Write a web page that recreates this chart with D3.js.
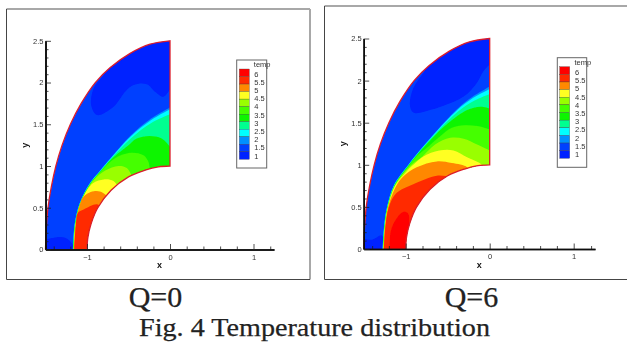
<!DOCTYPE html>
<html lang="en">

<head>
    <meta charset="UTF-8">
    <title>Fig. 4 Temperature distribution</title>
    <script src="https://d3js.org/d3.v7.min.js"></script>
    <style>
        html, body { margin: 0; padding: 0; background: #fff; overflow: hidden; }
        svg { display: block; }
        .tick text, .legend-label, .axis-title { font-family: "Liberation Sans", sans-serif; fill: #333; }
        .tick text, .legend-label { font-size: 7.5px; }
        .axis-title { font-size: 9px; font-weight: bold; fill: #111; }
        .caption { font-family: "Liberation Serif", serif; fill: #222; stroke: #222; stroke-width: 0.25px; text-anchor: middle; }
    </style>
</head>

<body>
    <div id="chart"></div>

    <script>
        // legend, top band first
        const legendLabels = ["6", "5.5", "5", "4.5", "4", "3.5", "3", "2.5", "2", "1.5", "1"];
        const bandNames = ["b12", "b11", "b10", "b9", "b8", "b7", "b6", "b5", "b4", "b3", "b2", "b1"];
        const bandColors = ["#ff0000", "#ff2a00", "#ff8800", "#ffff22", "#99ff00", "#44ff00", "#11f500",
            "#00ff90", "#00ffff", "#0090ff", "#0040ff", "#0020ff"];

        const xMajor = [-1, 0, 1];
        const xMinor = [-1.4, -1.2, -0.8, -0.6, -0.4, -0.2, 0.2, 0.4, 0.6, 0.8, 1.2];
        const yMajor = [0, 0.5, 1, 1.5, 2, 2.5];
        const yMinor = [0.1, 0.2, 0.3, 0.4, 0.6, 0.7, 0.8, 0.9, 1.1, 1.2, 1.3, 1.4, 1.6, 1.7, 1.8, 1.9, 2.1, 2.2, 2.3, 2.4];

        // domain edges (x, y)
        const outerEdge = [[-1.5, 0], [-1.49, 0.25], [-1.47, 0.5], [-1.43, 0.75], [-1.375, 1], [-1.3, 1.25], [-1.2, 1.5],
            [-1.07, 1.75], [-0.9, 2], [-0.72, 2.18], [-0.48, 2.35], [-0.24, 2.46], [0, 2.5]];
        const innerEdge = [[0, 1], [-0.14, 0.99], [-0.3, 0.95], [-0.5, 0.87], [-0.71, 0.71], [-0.87, 0.5], [-0.95, 0.31], [-0.99, 0.14], [-1, 0]];

        // Q=0 contour fronts, coolest first
        const q0DeepTop = [[0, 1.92], [-0.08, 1.83], [-0.18, 1.89], [-0.28, 1.98], [-0.44, 1.97], [-0.54, 1.89], [-0.68, 1.71], [-0.88, 1.61],
            [-0.95, 1.73], [-0.92, 1.93], [-0.8, 2.09], [-0.68, 2.26], [-0.44, 2.42], [-0.24, 2.52], [0, 2.55]];
        const q0DeepLow = [[-1.55, 0.11], [-1.32, 0.15], [-1.24, 0.13], [-1.18, 0.07], [-1.17, 0], [-1.55, 0]];
        const q0Azure = [[-1.17, 0], [-1.15, 0.3], [-1.09, 0.55], [-0.97, 0.79], [-0.84, 0.95], [-0.72, 1.09], [-0.48, 1.36], [-0.24, 1.56], [0, 1.7]];
        const q0Cyan = [[-1.168, 0], [-1.148, 0.3], [-1.088, 0.55], [-0.968, 0.788], [-0.838, 0.947], [-0.718, 1.086], [-0.477, 1.35], [-0.235, 1.545], [0, 1.68]];
        const q0Spring = [[-1.166, 0], [-1.146, 0.3], [-1.086, 0.55], [-0.966, 0.786], [-0.836, 0.944], [-0.716, 1.082], [-0.472, 1.33], [-0.225, 1.515], [0, 1.62]];
        const q0Green = [[-1.164, 0], [-1.144, 0.3], [-1.084, 0.55], [-0.964, 0.784], [-0.834, 0.941], [-0.712, 1.076], [-0.6, 1.17], [-0.5, 1.25], [-0.4, 1.33],
            [-0.25, 1.36], [-0.1, 1.33], [0, 1.23]];
        const q0Lime = [[-1.162, 0], [-1.142, 0.3], [-1.082, 0.55], [-0.962, 0.782], [-0.832, 0.938], [-0.7, 1.065], [-0.6, 1.125], [-0.46, 1.16], [-0.32, 1.13], [-0.26, 1.05], [-0.24, 0.9]];
        const q0YellowGreen = [[-1.16, 0], [-1.14, 0.3], [-1.08, 0.55], [-0.96, 0.78], [-0.88, 0.87], [-0.78, 0.945], [-0.62, 1.0], [-0.52, 0.975], [-0.45, 0.86]];
        const q0Yellow = [[-1.158, 0], [-1.138, 0.3], [-1.078, 0.55], [-0.995, 0.72], [-0.92, 0.8], [-0.8, 0.84], [-0.68, 0.82], [-0.6, 0.7]];
        const q0Orange = [[-1.156, 0], [-1.136, 0.3], [-1.09, 0.52], [-1.04, 0.635], [-0.9, 0.7], [-0.78, 0.66], [-0.7, 0.5]];
        const q0RedOrange = [[-1.154, 0], [-1.134, 0.3], [-1.11, 0.44], [-1.04, 0.48], [-0.87, 0.54], [-0.8, 0.4]];

        // Q=6 contour fronts, coolest first
        const q6DeepTop = [[0, 2.19], [-0.075, 2.11], [-0.155, 1.97], [-0.31, 1.81], [-0.55, 1.7], [-0.75, 1.64], [-0.91, 1.62], [-0.95, 1.71],
            [-0.91, 1.91], [-0.79, 2.09], [-0.68, 2.26], [-0.44, 2.42], [-0.24, 2.52], [0, 2.55]];
        const q6DeepLow = [[-1.55, 0.13], [-1.4, 0.11], [-1.285, 0.16], [-1.27, 0], [-1.55, 0]];
        const q6Azure = [[-1.275, 0], [-1.26, 0.25], [-1.225, 0.49], [-1.14, 0.76], [-0.97, 1.0], [-0.86, 1.14], [-0.67, 1.36], [-0.39, 1.66], [-0.2, 1.81], [0, 1.93]];
        const q6Cyan = [[-1.273, 0], [-1.258, 0.25], [-1.223, 0.49], [-1.138, 0.758], [-0.968, 0.998], [-0.858, 1.137], [-0.668, 1.357], [-0.386, 1.652], [-0.195, 1.795], [0, 1.9]];
        const q6Spring = [[-1.271, 0], [-1.256, 0.25], [-1.221, 0.49], [-1.136, 0.756], [-0.966, 0.996], [-0.856, 1.134], [-0.664, 1.35], [-0.38, 1.63], [-0.185, 1.76], [0, 1.84]];
        const q6Green = [[-1.269, 0], [-1.254, 0.25], [-1.219, 0.49], [-1.134, 0.754], [-0.964, 0.994], [-0.854, 1.131], [-0.66, 1.34], [-0.5, 1.49], [-0.27, 1.65], [-0.11, 1.69], [0, 1.67]];
        const q6Lime = [[-1.267, 0], [-1.252, 0.25], [-1.217, 0.49], [-1.132, 0.752], [-0.962, 0.99], [-0.85, 1.12], [-0.75, 1.2], [-0.6, 1.33], [-0.45, 1.44], [-0.3, 1.47], [-0.15, 1.46], [0, 1.42]];
        const q6YellowGreen = [[-1.265, 0], [-1.25, 0.25], [-1.215, 0.49], [-1.13, 0.75], [-0.955, 0.98], [-0.8, 1.1], [-0.65, 1.24], [-0.47, 1.32], [-0.31, 1.31], [-0.15, 1.24], [0, 1.17]];
        const q6Yellow = [[-1.263, 0], [-1.248, 0.25], [-1.213, 0.49], [-1.128, 0.748], [-1.0, 0.91], [-0.91, 1.0], [-0.79, 1.1], [-0.6, 1.17], [-0.43, 1.17], [-0.27, 1.09], [-0.12, 1.02], [-0.08, 0.98]];
        const q6Orange = [[-1.261, 0], [-1.246, 0.25], [-1.211, 0.49], [-1.115, 0.745], [-1.03, 0.86], [-0.87, 0.97], [-0.63, 1.04], [-0.45, 1.02], [-0.27, 0.97], [-0.25, 0.9]];
        const q6RedOrange = [[-1.259, 0], [-1.244, 0.25], [-1.2, 0.5], [-1.11, 0.665], [-0.91, 0.77], [-0.63, 0.87], [-0.5, 0.87], [-0.42, 0.91], [-0.38, 0.9]];
        const q6Red = [[-1.19, 0], [-1.18, 0.2], [-1.13, 0.33], [-1.03, 0.44], [-0.97, 0.42], [-0.97, 0.2], [-1, 0.05], [-1, 0]];

        const width = 627;
        const height = 343;

        const svg = d3.select("#chart").append("svg")
            .attr("width", width)
            .attr("height", height);

        // the reference is a soft scan, take the edge off the plots
        svg.append("filter").attr("id", "soft")
            .attr("x", "-2%").attr("y", "-2%").attr("width", "104%").attr("height", "104%")
            .append("feGaussianBlur").attr("stdDeviation", 0.35);

        const panels = [
            {
                id: "q0", caption: "Q=0", captionX: 155.5,
                frame: { x0: 6.5, y0: 9, x1: 310, y1: 279.5 },
                xRange: [45.5, 170, 253.5, 274], yRange: [249.5, 40.8],
                legend: { x0: 236.7, y0: 60, x1: 266.7, y1: 168, swatch0: 239.3, swatch1: 249.3, band0: 69, band1: 159.3, label0: 74, label1: 156, textX: 254.3, titleY: 67 },
                deep: [q0DeepTop, q0DeepLow],
                fronts: [q0Azure, q0Cyan, q0Spring, q0Green, q0Lime, q0YellowGreen, q0Yellow, q0Orange, q0RedOrange],
            },
            {
                id: "q6", caption: "Q=6", captionX: 471.5,
                frame: { x0: 324.5, y0: 6, x1: 629, y1: 279.5 },
                xRange: [363.7, 489.7, 573.7, 595], yRange: [249, 38.5],
                legend: { x0: 557.3, y0: 57.7, x1: 586.7, y1: 167.3, swatch0: 559.7, swatch1: 569.7, band0: 66.7, band1: 158.3, label0: 72.3, label1: 154.3, textX: 575, titleY: 64.5 },
                deep: [q6DeepTop, q6DeepLow],
                fronts: [q6Azure, q6Cyan, q6Spring, q6Green, q6Lime, q6YellowGreen, q6Yellow, q6Orange, q6RedOrange, q6Red],
            },
        ];

        const colorScale = d3.scaleOrdinal().domain(bandNames).range(bandColors);
        // band painted by each front, azure upwards
        const frontBands = ["b3", "b4", "b5", "b6", "b7", "b8", "b9", "b10", "b11", "b12"];

        function drawPanel(p) {
            const g = svg.append("g").attr("filter", "url(#soft)");

            // frame: dark left/bottom edges, grey top/right ones
            g.append("line").attr("x1", p.frame.x0).attr("x2", p.frame.x1).attr("y1", p.frame.y0).attr("y2", p.frame.y0)
                .attr("stroke", "#a8a8a8").attr("stroke-width", 2);
            g.append("line").attr("x1", p.frame.x1).attr("x2", p.frame.x1).attr("y1", p.frame.y0).attr("y2", p.frame.y1)
                .attr("stroke", "#a8a8a8").attr("stroke-width", 2);
            g.append("line").attr("x1", p.frame.x0).attr("x2", p.frame.x0).attr("y1", p.frame.y0).attr("y2", p.frame.y1)
                .attr("stroke", "#444").attr("stroke-width", 1);
            g.append("line").attr("x1", p.frame.x0).attr("x2", p.frame.x1).attr("y1", p.frame.y1).attr("y2", p.frame.y1)
                .attr("stroke", "#444").attr("stroke-width", 1);

            const xScale = d3.scaleLinear().domain([-1.5, 0, 1, 1.245]).range(p.xRange);
            const yScale = d3.scaleLinear().domain([0, 2.5]).range(p.yRange);
            const line = d3.line().x(d => xScale(d[0])).y(d => yScale(d[1])).curve(d3.curveCatmullRom);
            const origin = `L${xScale(0)},${yScale(0)}Z`;

            const domainPath = line(outerEdge) + "L" + line(innerEdge).slice(1) + "Z";

            g.append("clipPath").attr("id", `clip-${p.id}`)
                .append("path").attr("d", domainPath);

            const field = g.append("g").attr("clip-path", `url(#clip-${p.id})`);

            field.append("path").attr("d", domainPath).attr("fill", colorScale("b2"));

            p.deep.forEach(pts => {
                field.append("path").attr("d", line(pts) + "Z").attr("fill", colorScale("b1"));
            });

            // each front closes through the origin, the hole is clipped away
            p.fronts.forEach((pts, i) => {
                field.append("path")
                    .attr("d", line(pts) + origin)
                    .attr("fill", colorScale(frontBands[i]));
            });

            // red boundary line
            g.append("path")
                .attr("d", line(outerEdge) + "L" + line(innerEdge).slice(1))
                .attr("fill", "none")
                .attr("stroke", "#dc1c2c")
                .attr("stroke-width", 1.3);

            // axes, ticks point into the plot
            const xAxis = g.append("g").attr("transform", `translate(0, ${p.yRange[0]})`);
            xAxis.append("g").call(d3.axisBottom(xScale).tickValues(xMinor).tickFormat("").tickSizeInner(-3).tickSizeOuter(0));
            xAxis.append("g").call(d3.axisBottom(xScale).tickValues(xMajor).tickFormat(d3.format("d")).tickSizeInner(-5.5).tickSizeOuter(0).tickPadding(5));

            const yAxis = g.append("g").attr("transform", `translate(${p.xRange[0]}, 0)`);
            yAxis.append("g").call(d3.axisLeft(yScale).tickValues(yMinor).tickFormat("").tickSizeInner(-3).tickSizeOuter(0));
            yAxis.append("g").call(d3.axisLeft(yScale).tickValues(yMajor).tickFormat(d => String(d)).tickSizeInner(-5.5).tickSizeOuter(0).tickPadding(2));

            g.selectAll(".domain").attr("stroke", "#111").attr("stroke-width", 1.6);
            g.selectAll(".tick line").attr("stroke", "#222").attr("stroke-width", 0.8);

            g.append("text").attr("class", "axis-title")
                .attr("x", xScale(0) - 13).attr("y", p.yRange[0] + 18.5)
                .text("x");
            g.append("text").attr("class", "axis-title")
                .attr("transform", `translate(${p.xRange[0] - 17.5}, ${yScale(1.25)}) rotate(-90)`)
                .attr("text-anchor", "middle")
                .text("y");

            drawLegend(g, p.legend);

            svg.append("text").attr("class", "caption")
                .attr("x", p.captionX).attr("y", 307)
                .attr("font-size", 30)
                .text(p.caption);
        }

        function drawLegend(g, l) {
            g.append("rect")
                .attr("x", l.x0).attr("y", l.y0)
                .attr("width", l.x1 - l.x0).attr("height", l.y1 - l.y0)
                .attr("fill", "#fff").attr("stroke", "#666").attr("stroke-width", 1);

            const bandScale = d3.scaleBand().domain(bandNames).range([l.band0, l.band1]);
            g.selectAll(null).data(bandNames).join("rect")
                .attr("x", l.swatch0)
                .attr("y", d => bandScale(d))
                .attr("width", l.swatch1 - l.swatch0)
                .attr("height", bandScale.bandwidth())
                .attr("fill", d => colorScale(d))
                .attr("stroke", "#333")
                .attr("stroke-width", 0.3);

            const labelScale = d3.scalePoint().domain(legendLabels).range([l.label0, l.label1]);
            g.selectAll(null).data(legendLabels).join("text")
                .attr("class", "legend-label")
                .attr("x", l.textX)
                .attr("y", d => labelScale(d))
                .attr("dy", "0.35em")
                .text(d => d);

            g.append("text").attr("class", "legend-label")
                .attr("x", l.textX - 0.5).attr("y", l.titleY)
                .text("temp");
        }

        panels.forEach(drawPanel);

        svg.append("text").attr("class", "caption")
            .attr("x", 314.5).attr("y", 336)
            .attr("font-size", 26)
            .attr("textLength", 351)
            .attr("lengthAdjust", "spacingAndGlyphs")
            .text("Fig. 4 Temperature distribution");
    </script>
</body>

</html>
